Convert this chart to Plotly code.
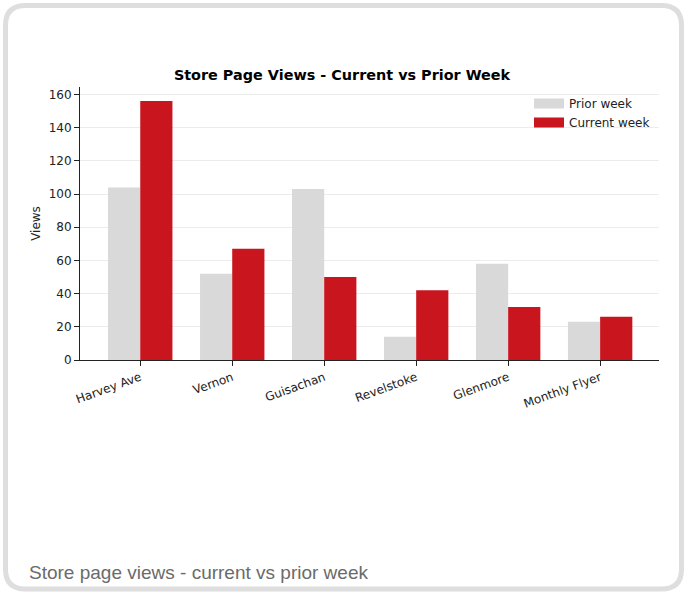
import plotly.graph_objects as go

categories = ["Harvey Ave", "Vernon", "Guisachan", "Revelstoke", "Glenmore", "Monthly Flyer"]
prior_week = [104, 52, 103, 14, 58, 23]
current_week = [156, 67, 50, 42, 32, 26]
y_ticks = [0, 20, 40, 60, 80, 100, 120, 140, 160]

W, H = 684, 594
L, R, T, B = 80, 25, 87, 234
pw, ph = W - L - R, H - T - B

def px(x):
    return (x - L) / pw

def py(y):
    return 1 - (y - T) / ph

fig = go.Figure()
fig.add_trace(go.Bar(x=categories, y=prior_week, name="Prior week", showlegend=False,
                     marker=dict(color="#d9d9d9", line=dict(width=0))))
fig.add_trace(go.Bar(x=categories, y=current_week, name="Current week", showlegend=False,
                     marker=dict(color="#c8151e", line=dict(width=0))))
# legend entries (rectangular swatches)
fig.add_trace(go.Scatter(x=[None], y=[None], mode="lines", name="Prior week",
                         line=dict(color="#d9d9d9", width=10)))
fig.add_trace(go.Scatter(x=[None], y=[None], mode="lines", name="Current week",
                         line=dict(color="#c8151e", width=10)))

# rounded card border
x0, y0, x1, y1, r = 5.5, 5.5, 681.5, 589, 20
path = (f"M {px(x0+r)},{py(y0)} L {px(x1-r)},{py(y0)} Q {px(x1)},{py(y0)} {px(x1)},{py(y0+r)} "
        f"L {px(x1)},{py(y1-r)} Q {px(x1)},{py(y1)} {px(x1-r)},{py(y1)} "
        f"L {px(x0+r)},{py(y1)} Q {px(x0)},{py(y1)} {px(x0)},{py(y1-r)} "
        f"L {px(x0)},{py(y0+r)} Q {px(x0)},{py(y0)} {px(x0+r)},{py(y0)} Z")

fig.update_layout(
    width=W, height=H,
    margin=dict(l=L, r=R, t=T, b=B),
    paper_bgcolor="white", plot_bgcolor="white",
    barmode="group", bargap=0.3, bargroupgap=0,
    font=dict(family="DejaVu Sans", size=12, color="#222"),
    title=dict(text="<b>Store Page Views - Current vs Prior Week</b>",
               x=px(369.5), xanchor="center", y=1 - 75 / H, yanchor="middle",
               font=dict(size=14.4, color="#000")),
    showlegend=True,
    legend=dict(x=px(655), xanchor="right", y=py(89), yanchor="top", bgcolor="rgba(0,0,0,0)",
                font=dict(size=12, color="#222"), itemwidth=30, tracegroupgap=0),
    xaxis=dict(range=[-0.655, 5.64], tickangle=-20, showline=True, linecolor="#222",
               linewidth=1, ticks="outside", ticklen=5, tickcolor="#222",
               tickfont=dict(size=12, color="#222"), showgrid=False, zeroline=False),
    yaxis=dict(range=[0, 164.5], tickvals=y_ticks, showline=True, linecolor="#222",
               linewidth=1, ticks="outside", ticklen=5, tickcolor="#222",
               tickfont=dict(size=12, color="#222"), showgrid=True, gridcolor="#ececec",
               gridwidth=1, zeroline=False,
               title=dict(text="Views", font=dict(size=12, color="#222"), standoff=5)),
    shapes=[dict(type="path", path=path, xref="paper", yref="paper",
                 line=dict(color="#dedede", width=5), fillcolor="rgba(0,0,0,0)", layer="below")],
    annotations=[dict(text="Store page views - current vs prior week", xref="paper", yref="paper",
                      x=px(27), y=py(572), xanchor="left", yanchor="middle", showarrow=False,
                      font=dict(family="Liberation Sans", size=19, color="#6b6b6b"))],
)

fig.write_html("out.html", config={"displayModeBar": False},
               post_script="document.body.style.margin='0';document.body.style.overflow='hidden';")
